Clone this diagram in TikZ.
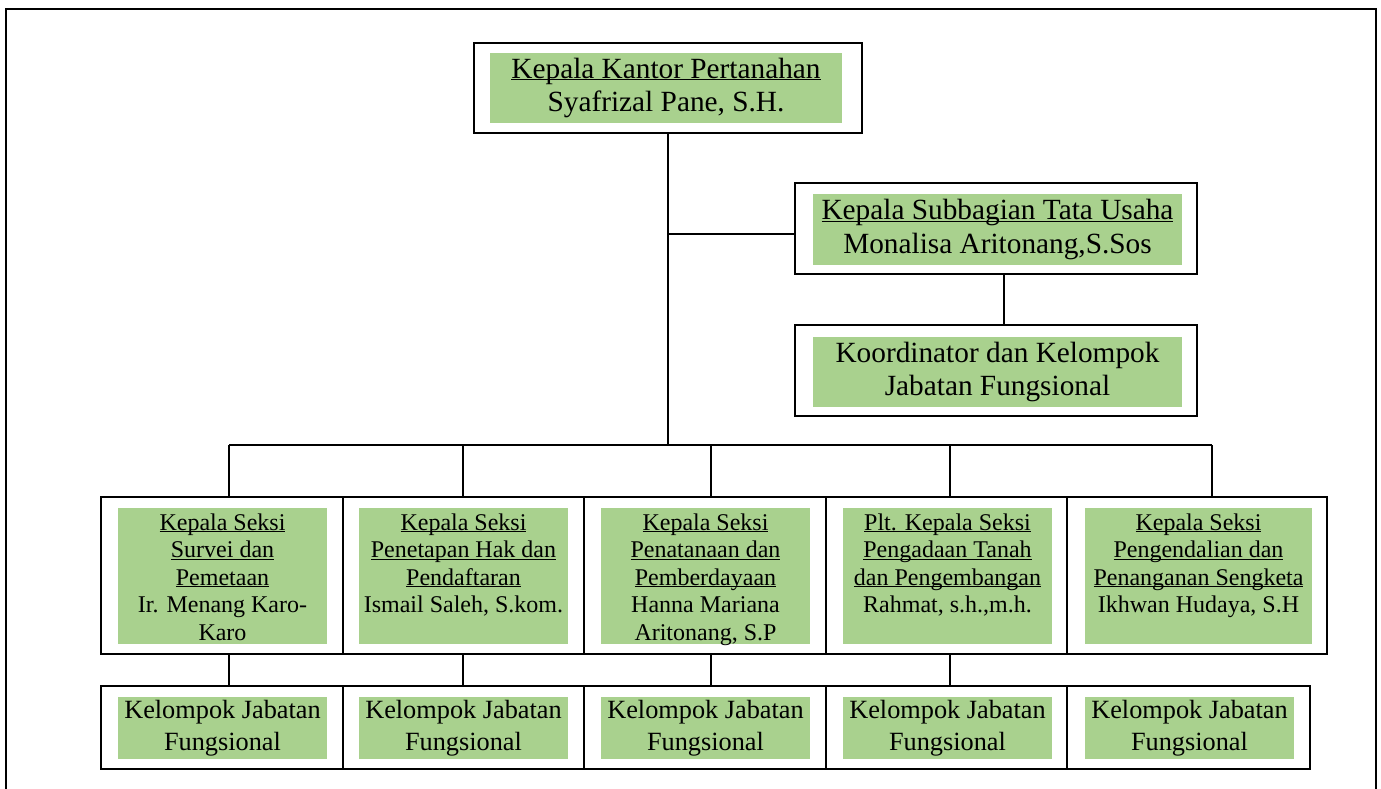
\documentclass[tikz,border=0pt]{standalone}
\usepackage{fontspec}
\setmainfont{Liberation Serif}

\definecolor{hijau}{RGB}{169,209,142}
\newcommand{\besar}{\fontsize{29.3}{33.5}\selectfont}
\newcommand{\sedang}{\fontsize{26.3}{32}\selectfont}
\newcommand{\kecil}{\fontsize{24}{27.6}\selectfont}
\newcommand{\garis}[1]{\underline{\raisebox{0pt}[\height][0pt]{#1}}}
\newcommand{\seksi}[2]{\parbox[c][136pt][t]{#1}{\centering\kecil\rule{0pt}{22pt}#2}}

\begin{document}
\begin{tikzpicture}[x=1pt,y=-1pt]
\tikzset{kotak/.style={draw,line width=1.5pt,fill=white,inner sep=0pt},
         isi/.style={fill=hijau,inner sep=0pt,align=center},
         isiseksi/.style={fill=hijau,inner sep=0pt},
         hubung/.style={line width=1.3pt}}
\useasboundingbox (0,0) rectangle (1381,789);
\draw[line width=2.5pt] (6,9) rectangle (1376,820);

% pimpinan
\node[kotak,minimum width=388pt,minimum height=90pt] (kakan) at (668,88) {};
\node[isi,minimum width=352pt,minimum height=70pt,font=\besar] (kakan-isi) at (666,88) {\garis{Kepala Kantor Pertanahan}\\Syafrizal Pane, S.H.};

% tata usaha
\node[kotak,minimum width=402pt,minimum height=91pt] (subbag) at (996,228.5) {};
\node[isi,minimum width=369pt,minimum height=71pt,font=\besar] (subbag-isi) at (997.5,229.5) {\garis{Kepala Subbagian Tata Usaha}\\Monalisa Aritonang,S.Sos};
\node[kotak,minimum width=402pt,minimum height=91pt] (koord) at (996,370.5) {};
\node[isi,minimum width=369pt,minimum height=70pt,font=\besar] (koord-isi) at (997.5,372) {Koordinator dan Kelompok\\Jabatan Fungsional};

% seksi
\node[kotak,minimum width=242pt,minimum height=157pt] (s1) at (222,575.5) {};
\node[isiseksi] (s1-isi) at (222.5,576) {\seksi{209pt}{\garis{Kepala Seksi}\\\garis{Survei dan}\\\garis{Pemetaan}\\Ir. Menang Karo-\\Karo}};
\node[kotak,minimum width=241pt,minimum height=157pt] (s2) at (463.5,575.5) {};
\node[isiseksi] (s2-isi) at (463.5,576) {\seksi{209pt}{\garis{Kepala Seksi}\\\garis{Penetapan Hak dan}\\\garis{Pendaftaran}\\Ismail Saleh, S.kom.}};
\node[kotak,minimum width=242pt,minimum height=157pt] (s3) at (705,575.5) {};
\node[isiseksi] (s3-isi) at (705.5,576) {\seksi{209pt}{\garis{Kepala Seksi}\\\garis{Penatanaan dan}\\\garis{Pemberdayaan}\\Hanna Mariana\\Aritonang, S.P}};
\node[kotak,minimum width=241pt,minimum height=157pt] (s4) at (946.5,575.5) {};
\node[isiseksi] (s4-isi) at (947.5,576) {\seksi{209pt}{\garis{Plt. Kepala Seksi}\\\garis{Pengadaan Tanah}\\\garis{dan Pengembangan}\\Rahmat, s.h.,m.h.}};
\node[kotak,minimum width=260pt,minimum height=157pt] (s5) at (1197,575.5) {};
\node[isiseksi] (s5-isi) at (1198.5,576) {\seksi{227pt}{\garis{Kepala Seksi}\\\garis{Pengendalian dan}\\\garis{Penanganan Sengketa}\\Ikhwan Hudaya, S.H}};

% kelompok jabatan fungsional
\node[kotak,minimum width=242pt,minimum height=83pt] (k1) at (222,727.5) {};
\node[isi,minimum width=209pt,minimum height=62pt,font=\sedang] (k1-isi) at (222.5,728) {Kelompok Jabatan\\Fungsional};
\node[kotak,minimum width=241pt,minimum height=83pt] (k2) at (463.5,727.5) {};
\node[isi,minimum width=209pt,minimum height=62pt,font=\sedang] (k2-isi) at (463.5,728) {Kelompok Jabatan\\Fungsional};
\node[kotak,minimum width=242pt,minimum height=83pt] (k3) at (705,727.5) {};
\node[isi,minimum width=209pt,minimum height=62pt,font=\sedang] (k3-isi) at (705.5,728) {Kelompok Jabatan\\Fungsional};
\node[kotak,minimum width=241pt,minimum height=83pt] (k4) at (946.5,727.5) {};
\node[isi,minimum width=209pt,minimum height=62pt,font=\sedang] (k4-isi) at (947.5,728) {Kelompok Jabatan\\Fungsional};
\node[kotak,minimum width=243pt,minimum height=83pt] (k5) at (1188.5,727.5) {};
\node[isi,minimum width=209pt,minimum height=62pt,font=\sedang] (k5-isi) at (1189.5,728) {Kelompok Jabatan\\Fungsional};

% garis
\coordinate (cabang) at (668,234);
\coordinate (pusat) at (668,445);
\coordinate (t1) at (229,445);
\coordinate (t2) at (463,445);
\coordinate (t3) at (711,445);
\coordinate (t4) at (950,445);
\coordinate (t5) at (1212,445);
\draw[hubung] (kakan) -- (pusat);
\draw[hubung] (cabang) -- (cabang -| subbag.west);
\draw[hubung] ([xshift=8pt]subbag.south) -- ([xshift=8pt]koord.north);
\draw[hubung] (t1) -- (t5);
\foreach \t/\s in {t1/s1,t2/s2,t3/s3,t4/s4,t5/s5}
  \draw[hubung] (\t) -- (\t |- \s.north);
\foreach \t/\s/\k in {t1/s1/k1,t2/s2/k2,t3/s3/k3,t4/s4/k4}
  \draw[hubung] (\t |- \s.south) -- (\t |- \k.north);
\end{tikzpicture}
\end{document}
